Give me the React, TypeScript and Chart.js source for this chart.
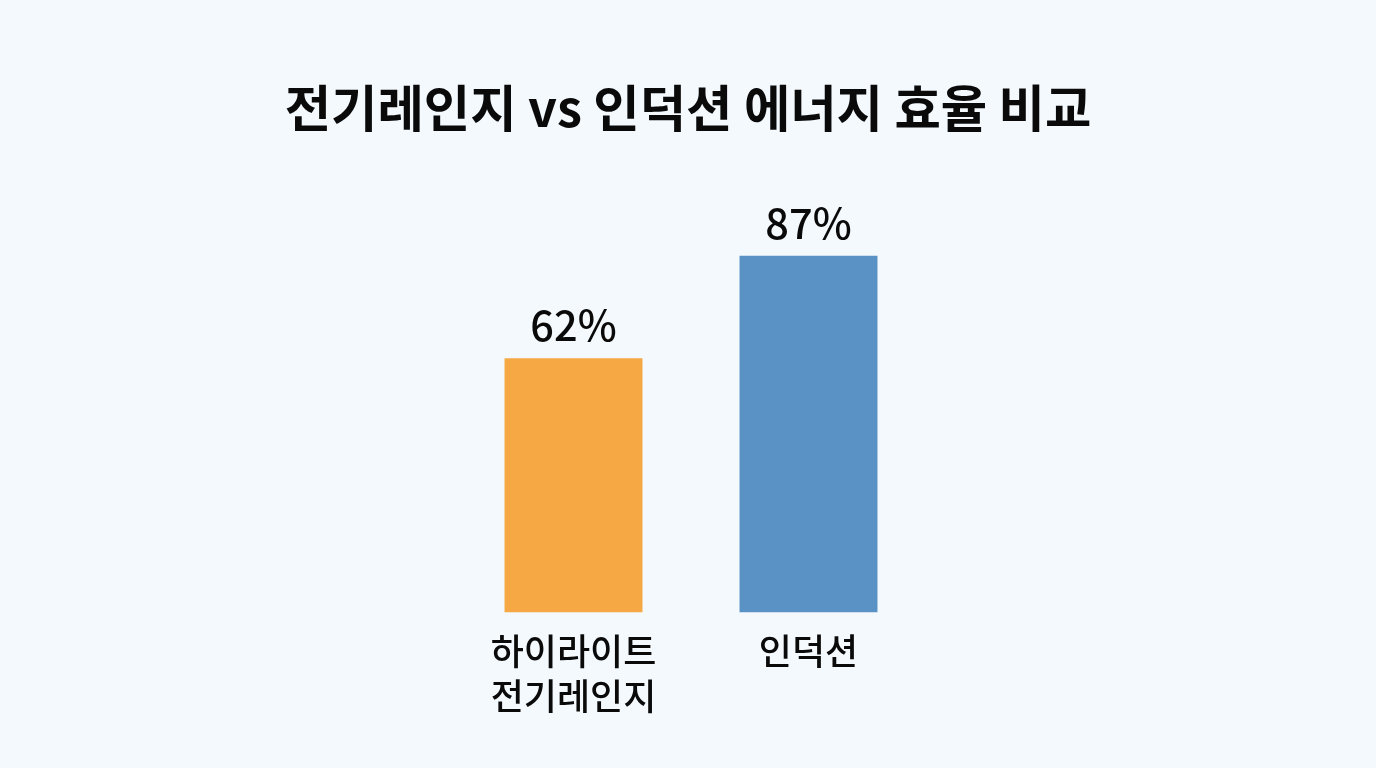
import { useEffect, useRef } from "react"
import Chart from "chart.js/auto"

const categories = [["하이라이트", "전기레인지"], "인덕션"]
const efficiency = [62, 87]
const barColors = ["#f6a845", "#5b92c6"]
const titleText = "전기레인지 vs 인덕션 에너지 효율 비교"
const fontFamily = '"Noto Sans CJK KR", "Noto Sans", sans-serif'

// draws the percent label above each bar
const valueLabels = {
  id: "valueLabels",
  afterDatasetsDraw(chart: Chart) {
    const { ctx } = chart
    const meta = chart.getDatasetMeta(0)
    ctx.save()
    ctx.fillStyle = "#0a0a0a"
    ctx.font = `500 41.5px ${fontFamily}`
    ctx.textAlign = "center"
    ctx.textBaseline = "bottom"
    meta.data.forEach((bar, i) => {
      ctx.fillText(`${efficiency[i]}%`, bar.x, bar.y - 12)
    })
    ctx.restore()
  },
}

export default function App() {
  const chartRef = useRef<HTMLCanvasElement>(null)

  useEffect(() => {
    if (!chartRef.current) return

    const chart = new Chart(chartRef.current, {
      type: "bar",
      data: {
        labels: categories,
        datasets: [
          {
            data: efficiency,
            backgroundColor: barColors,
            barPercentage: 0.587,
            categoryPercentage: 1,
          },
        ],
      },
      plugins: [valueLabels],
      options: {
        responsive: false,
        animation: false,
        layout: { padding: 0 },
        scales: {
          x: {
            grid: { display: false },
            border: { display: false },
            afterFit: (scale) => {
              scale.height = 155.5
            },
            ticks: {
              color: "#0a0a0a",
              padding: 8.5,
              maxRotation: 0,
              autoSkip: false,
              font: { family: fontFamily, size: 36, weight: "500", lineHeight: 1.25 },
            },
          },
          y: {
            min: 0,
            max: 100,
            grid: { display: false },
            border: { display: false },
            ticks: { display: false },
            afterFit: (scale) => {
              scale.width = 456
            },
          },
          // empty right axis keeps the plot off-centre while the title stays centred
          yRight: {
            position: "right",
            min: 0,
            max: 100,
            grid: { display: false },
            border: { display: false },
            ticks: { display: false },
            afterFit: (scale) => {
              scale.width = 450
            },
          },
        },
        plugins: {
          legend: { display: false },
          tooltip: { enabled: false },
          title: {
            display: true,
            text: titleText,
            color: "#0a0a0a",
            padding: { top: 78, bottom: 64 },
            font: { family: fontFamily, size: 50.4, weight: "bold", lineHeight: 1.2 },
          },
        },
      },
    })

    return () => chart.destroy()
  }, [])

  return (
    <div style={{ position: "fixed", inset: 0, background: "#f4f9fd" }}>
      <canvas ref={chartRef} width={1376} height={768} style={{ display: "block" }} />
    </div>
  )
}
